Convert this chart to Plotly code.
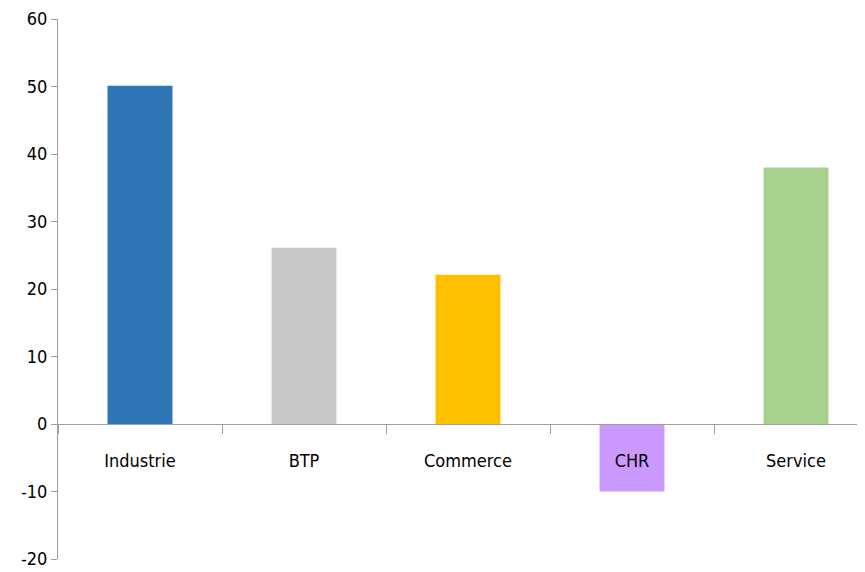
import plotly.graph_objects as go

categories = ["Industrie", "BTP", "Commerce", "CHR", "Service"]
values = [50.1, 26.1, 22.1, -10.0, 38.0]
colors = ["#2E75B6", "#C9C9C9", "#FFC000", "#CC99FF", "#A9D18E"]
y_ticks = [-20, -10, 0, 10, 20, 30, 40, 50, 60]
y_tick_labels = ["-20", "-10", "0", "10", "20", "30", "40", "50", "60"]

font_family = "Liberation Sans Narrow, DejaVu Sans Condensed, Arial Narrow, sans-serif"

fig = go.Figure(go.Bar(x=categories, y=values, marker=dict(color=colors, line=dict(width=0)),
                       width=0.396))

fig.update_layout(
    width=857, height=564,
    margin=dict(l=50, r=0, t=11, b=13, autoexpand=False),
    paper_bgcolor="white", plot_bgcolor="white",
    showlegend=False,
    font=dict(family=font_family, size=18, color="#000000"),
)
fig.update_yaxes(
    range=[-20, 60], tickvals=y_ticks, ticktext=y_tick_labels,
    showgrid=False, zeroline=False, automargin=False,
    showline=True, linecolor="#A0A0A0", linewidth=1,
    ticks="outside", ticklen=6, tickcolor="#A0A0A0",
    tickfont=dict(size=18, family=font_family),
)
fig.update_xaxes(
    range=[-0.5, -0.5 + 807 / 164], anchor="free", position=0.25,
    showgrid=False, zeroline=False, automargin=False,
    showline=True, linecolor="#A0A0A0", linewidth=1,
    ticks="outside", ticklen=9, tickcolor="#A0A0A0", tickson="boundaries",
    tickfont=dict(size=18, family=font_family), ticklabelstandoff=20,
    layer="above traces",
)

fig.write_html("out.html")
